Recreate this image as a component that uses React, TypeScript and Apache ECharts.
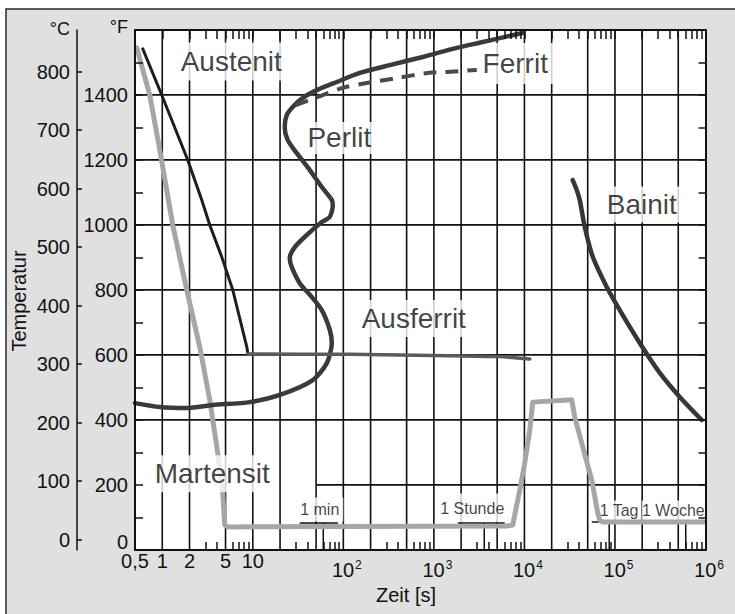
import React, { useEffect, useRef } from "react";
import * as echarts from "echarts";

const FONT = '"Liberation Sans", Arial, Helvetica, sans-serif';
const INK = "#111111";

// ---------- axis definitions (time in s, temperature in °F / °C)
const xMin = 0.5;
const xMax = 1000000;
const tMin = 0;
const tMax = 1600;
const gridTimes = [1, 2, 5, 10, 20, 50, 100, 200, 500, 1000, 2000, 5000, 10000, 20000, 50000, 100000, 200000, 500000];
const minorTimes = [
  3, 4, 6, 7, 8, 9, 30, 40, 60, 70, 80, 90, 300, 400, 600, 700, 800, 900, 3000, 4000, 6000, 7000, 8000, 9000,
  30000, 40000, 60000, 70000, 80000, 90000, 300000, 400000, 600000, 700000, 800000, 900000,
];
const xLabelTimes = [0.5, 1, 2, 5, 10, 100, 1000, 10000, 100000, 1000000];
const xLabelTexts = ["0,5", "1", "2", "5", "10", "10^2", "10^3", "10^4", "10^5", "10^6"];
const fahrenheitGrid = [400, 600, 800, 1000, 1200, 1400];
const partialGridTemp = 200;
const partialGridFrom = 50;
const celsiusTicks = [0, 100, 200, 300, 400, 500, 600, 700, 800];

// ---------- curves (time s, temperature °F)
const perlitTimes = [0.5, 0.94, 1.87, 3.61, 9.26, 19.9, 46.0, 65.7, 74.6, 70.9, 57.8, 44.9, 33.0, 26.9, 25.6, 29.1, 39.4, 57.8, 70.9, 76.5, 74.6, 57.8, 42.6, 30.6, 24.3, 22.5, 23.7, 27.6, 35.6, 50.9, 84.5, 152, 326, 754, 1789, 3467, 5341, 9588];
const perlitTemps = [452, 440, 437, 446, 455, 477, 523, 575, 637, 677, 738, 778, 821, 871, 898, 932, 969, 1009, 1025, 1061, 1077, 1117, 1169, 1221, 1261, 1301, 1338, 1363, 1391, 1415, 1440, 1468, 1492, 1517, 1545, 1563, 1575, 1591];

const ferritTimes = [29.8, 52.2, 98.6, 181, 389, 856, 1388, 2977];
const ferritTemps = [1369, 1394, 1422, 1437, 1452, 1468, 1471, 1477];

const coolingTimes = [0.609, 0.987, 1.912, 2.731, 3.346, 4.54, 6.01, 8.58, 8.8];
const coolingTemps = [1542, 1400, 1200, 1077, 1000, 902, 800, 625, 606];

const ausferritTimes = [8.8, 117, 1500, 5300, 11460];
const ausferritTemps = [603, 602, 598, 595, 588];

const quenchTimes = [0.523, 0.728, 0.938, 1.306, 1.865, 2.594, 3.346, 4.1, 4.66, 4.9, 5.29, 6380, 7430, 8890, 10090, 11460, 12370, 33340, 35970, 44060, 55460, 64560, 67950, 73330, 981000];
const quenchTemps = [1545, 1400, 1231, 1000, 800, 625, 462, 299, 175, 77, 71, 74, 77, 185, 268, 369, 455, 462, 409, 317, 215, 114, 92, 86, 86];

const bainitTimes = [34150, 37800, 40850, 46390, 56860, 81190, 113000, 187900, 312500, 519600, 910000];
const bainitTemps = [1138, 1108, 1077, 994, 902, 809, 738, 637, 545, 471, 400];

// ---------- labels
const phaseNames = ["Austenit", "Perlit", "Ferrit", "Ausferrit", "Bainit", "Martensit"];
const phaseTimes = [5.78, 90.2, 8025, 599.6, 197700, 3.565];
const phaseTemps = [1503, 1268, 1497, 712, 1063, 235];

const timeNames = ["1 min", "1 Stunde", "1 Tag", "1 Woche"];
const timeLabelTimes = [54.9, 2654, 111000, 447000];
const timeLabelTemps = [125, 129, 121.5, 121.5];
const markTimes = [60, 3600, 86400, 604800];
const markTops = [83, 83, 86, 86];
const underlineFrom = [33, 1835, 55460];
const underlineTo = [87, 6064, 981000];
const underlineTemps = [83, 83, 86];

// ---------- styles (kept apart from data)
const phasePad: Record<string, number[]> = {
  Austenit: [7, 6, 3, 6],
  Perlit: [2, 6, 2, 6],
  Ferrit: [11, 7, 2, 6],
  Ausferrit: [7, 5, 2, 5],
  Bainit: [2, 6, 6, 6],
  Martensit: [4, 5, 5, 5],
};
const timePad: Record<string, number[]> = {
  "1 min": [0, 4, 8, 4],
  "1 Stunde": [12, 3, 1, 3],
  "1 Tag": [4, 1, 0, 1],
  "1 Woche": [4, 1, 0, 0],
};

const lx = (t: number) => Math.log10(t);
const pts = (ts: number[], fs: number[]) => ts.map((t, i) => [lx(t), fs[i]]);

function buildOption() {
  const X0 = lx(xMin);
  const X1 = lx(xMax);

  const segSeries = (name: string, a: number[], b: number[], z: number, width = 1.5) => ({
    type: "line",
    name,
    data: [a, b],
    z,
    silent: true,
    showSymbol: false,
    symbol: "none",
    clip: false,
    lineStyle: { color: INK, width, cap: "butt", opacity: 1 },
  });

  const gridSeries: any[] = [
    ...gridTimes.map((t) => segSeries("vgrid", [lx(t), tMin], [lx(t), tMax], 1.5, 1.6)),
    ...fahrenheitGrid.map((f) => segSeries("hgrid", [X0 + 0.001, f + 0.5], [X1 - 0.001, f + 0.5], 3.2, 1.8)),
    segSeries("hgrid", [lx(partialGridFrom), partialGridTemp + 0.5], [X1 - 0.001, partialGridTemp + 0.5], 3.2, 1.8),
  ];

  const markSeries: any[] = [
    ...markTimes.map((t, i) => segSeries("timeTick", [lx(t), tMin], [lx(t), markTops[i]], 3.3)),
    ...underlineFrom.map((a, i) =>
      segSeries("underline", [lx(a), underlineTemps[i]], [lx(underlineTo[i]), underlineTemps[i]], 3.3)
    ),
  ];

  const xLabelFormatter = (v: number) => {
    let best = 0;
    for (let i = 0; i < xLabelTimes.length; i++) {
      if (Math.abs(lx(xLabelTimes[i]) - v) < Math.abs(lx(xLabelTimes[best]) - v)) best = i;
    }
    const s = xLabelTexts[best];
    const m = s.match(/^10\^(\d)$/);
    return m ? `{b|10}{s|${m[1]}}` : `{p|${s}}`;
  };

  const phaseData = (names: string[]) =>
    names.map((n) => {
      const i = phaseNames.indexOf(n);
      return { name: n, value: [lx(phaseTimes[i]), phaseTemps[i]], label: { padding: phasePad[n] } };
    });

  const lineSeries = (name: string, data: number[][], style: any, smooth: number | boolean, z = 3.6) => ({
    type: "line",
    name,
    data,
    z,
    smooth,
    showSymbol: false,
    symbol: "none",
    silent: true,
    lineStyle: { cap: "round", join: "round", ...style },
  });

  return {
    animation: false,
    backgroundColor: "#ffffff",
    textStyle: { fontFamily: FONT },
    grid: {
      left: 135,
      top: 30,
      width: 570.5,
      height: 520,
      show: false,
      borderWidth: 0,
      containLabel: false,
      outerBoundsMode: "none",
    },
    graphic: {
      elements: [
        {
          type: "rect",
          z: -100,
          silent: true,
          shape: { x: 6, y: 9, width: 780, height: 660 },
          style: { fill: "#e0e0e0", stroke: "#2a2a2a", lineWidth: 1.5 },
        },
        {
          type: "rect",
          z: -90,
          silent: true,
          shape: { x: 135, y: 30, width: 570.5, height: 520 },
          style: { fill: "#ffffff" },
        },
        {
          type: "text",
          x: 70,
          y: 29,
          silent: true,
          style: { text: "°C", fill: INK, font: `18px ${FONT}`, align: "right", verticalAlign: "middle" },
        },
        {
          type: "text",
          x: 128,
          y: 27,
          silent: true,
          style: { text: "°F", fill: INK, font: `18px ${FONT}`, align: "right", verticalAlign: "middle" },
        },
        {
          type: "text",
          x: 406,
          y: 595,
          silent: true,
          style: { text: "Zeit [s]", fill: INK, font: `20px ${FONT}`, align: "center", verticalAlign: "middle" },
        },
        {
          type: "text",
          x: 19,
          y: 301,
          rotation: Math.PI / 2,
          silent: true,
          style: { text: "Temperatur", fill: INK, font: `20px ${FONT}`, align: "center", verticalAlign: "middle" },
        },
      ],
    },
    xAxis: [
      {
        type: "value",
        position: "bottom",
        min: X0,
        max: X1,
        z: 4,
        splitLine: { show: false },
        axisLine: { show: true, onZero: false, lineStyle: { color: INK, width: 2 } },
        axisTick: { show: true, inside: true, length: 8, customValues: minorTimes.map(lx), lineStyle: { color: INK, width: 1.5 } },
        axisLabel: {
          show: true,
          customValues: xLabelTimes.map(lx),
          showMinLabel: true,
          showMaxLabel: true,
          margin: 1,
          color: INK,
          formatter: xLabelFormatter,
          rich: {
            p: { fontSize: 20, lineHeight: 20, color: INK, fontFamily: FONT },
            b: { fontSize: 20, lineHeight: 38, color: INK, fontFamily: FONT, padding: [0, 0, 0, 7] },
            s: { fontSize: 12, lineHeight: 12, color: INK, fontFamily: FONT, verticalAlign: "top", padding: [8, 0, 0, 1] },
          },
        },
      },
      {
        type: "value",
        position: "top",
        min: X0,
        max: X1,
        z: 4,
        splitLine: { show: false },
        axisLine: { show: true, onZero: false, lineStyle: { color: INK, width: 2 } },
        axisTick: {
          show: true,
          inside: true,
          length: 9,
          customValues: [...minorTimes, ...gridTimes].map(lx),
          lineStyle: { color: INK, width: 1.5 },
        },
        axisLabel: { show: false },
      },
    ],
    yAxis: [
      {
        type: "value",
        position: "left",
        min: tMin,
        max: tMax,
        interval: 200,
        z: 4,
        splitLine: { show: false },
        axisLine: { show: true, onZero: false, lineStyle: { color: INK, width: 2 } },
        axisTick: { show: true, inside: true, length: 8, lineStyle: { color: INK, width: 1.5 } },
        minorTick: { show: true, splitNumber: 2, length: 8, lineStyle: { color: INK, width: 1.5 } },
        axisLabel: {
          show: true,
          margin: 7,
          fontSize: 20,
          lineHeight: 16,
          color: INK,
          fontFamily: FONT,
          showMaxLabel: false,
          verticalAlignMinLabel: "bottom",
          formatter: (v: number) => String(v),
        },
      },
      {
        type: "value",
        position: "left",
        offset: 58,
        min: (tMin - 32) / 1.8,
        max: (tMax - 32) / 1.8,
        z: 4,
        splitLine: { show: false },
        axisLine: { show: true, onZero: false, lineStyle: { color: INK, width: 1.5 } },
        axisTick: { show: true, inside: true, length: 5, customValues: celsiusTicks, lineStyle: { color: INK, width: 1.5 } },
        axisLabel: {
          show: true,
          customValues: celsiusTicks,
          margin: 7,
          fontSize: 20,
          color: INK,
          fontFamily: FONT,
          formatter: (v: number) => String(v),
        },
      },
      {
        type: "value",
        position: "right",
        min: tMin,
        max: tMax,
        interval: 200,
        z: 4,
        splitLine: { show: false },
        axisLine: { show: true, onZero: false, lineStyle: { color: INK, width: 2 } },
        axisTick: { show: true, inside: true, length: 7, lineStyle: { color: INK, width: 1.5 } },
        minorTick: { show: true, splitNumber: 2, length: 7, lineStyle: { color: INK, width: 1.5 } },
        axisLabel: { show: false },
      },
    ],
    series: [
      ...gridSeries,
      {
        type: "scatter",
        name: "phaseLabels",
        z: 2,
        silent: true,
        symbolSize: 1,
        itemStyle: { color: "transparent" },
        data: phaseData(phaseNames.filter((n) => n !== "Martensit")),
        label: {
          show: true,
          position: "inside",
          formatter: "{b}",
          fontSize: 28,
          fontFamily: FONT,
          color: INK,
          backgroundColor: "#ffffff",
        },
      },
      {
        type: "scatter",
        name: "timeLabels",
        z: 2,
        silent: true,
        symbolSize: 1,
        itemStyle: { color: "transparent" },
        data: timeNames.map((n, i) => ({
          name: n,
          value: [lx(timeLabelTimes[i]), timeLabelTemps[i]],
          label: { padding: timePad[n] },
        })),
        label: {
          show: true,
          position: "inside",
          formatter: "{b}",
          fontSize: 16,
          fontFamily: FONT,
          color: INK,
          backgroundColor: "#ffffff",
        },
      },
      lineSeries("Abschrecken", pts(quenchTimes, quenchTemps), { color: "#a6a6a6", width: 5 }, false),
      lineSeries("Perlit", pts(perlitTimes, perlitTemps), { color: "#3a3a3a", width: 4.5 }, 0.25),
      lineSeries("Ferrit", pts(ferritTimes, ferritTemps), { color: "#4a4a4a", width: 4, type: [13, 9], cap: "butt" }, 0.3),
      lineSeries("Abkühlung", pts(coolingTimes, coolingTemps), { color: "#1e1e1e", width: 3 }, false),
      lineSeries("Ausferrit", pts(ausferritTimes, ausferritTemps), { color: "#5a5a5a", width: 3.5 }, 0.2),
      lineSeries("Bainit", pts(bainitTimes, bainitTemps), { color: "#363636", width: 4.5 }, 0.3),
      ...markSeries,
      {
        type: "scatter",
        name: "martensitLabel",
        z: 5,
        silent: true,
        symbolSize: 1,
        itemStyle: { color: "transparent" },
        data: phaseData(["Martensit"]),
        label: {
          show: true,
          position: "inside",
          formatter: "{b}",
          fontSize: 28,
          fontFamily: FONT,
          color: INK,
          backgroundColor: "#ffffff",
        },
      },
    ],
  };
}

export default function App() {
  const ref = useRef<HTMLDivElement>(null);
  useEffect(() => {
    if (!ref.current) return;
    const chart = echarts.init(ref.current, undefined, { renderer: "svg" });
    chart.setOption(buildOption() as any);
    return () => chart.dispose();
  }, []);
  return (
    <div
      ref={ref}
      style={{ position: "absolute", left: 0, top: 0, width: 735, height: 614, background: "#ffffff" }}
    />
  );
}
